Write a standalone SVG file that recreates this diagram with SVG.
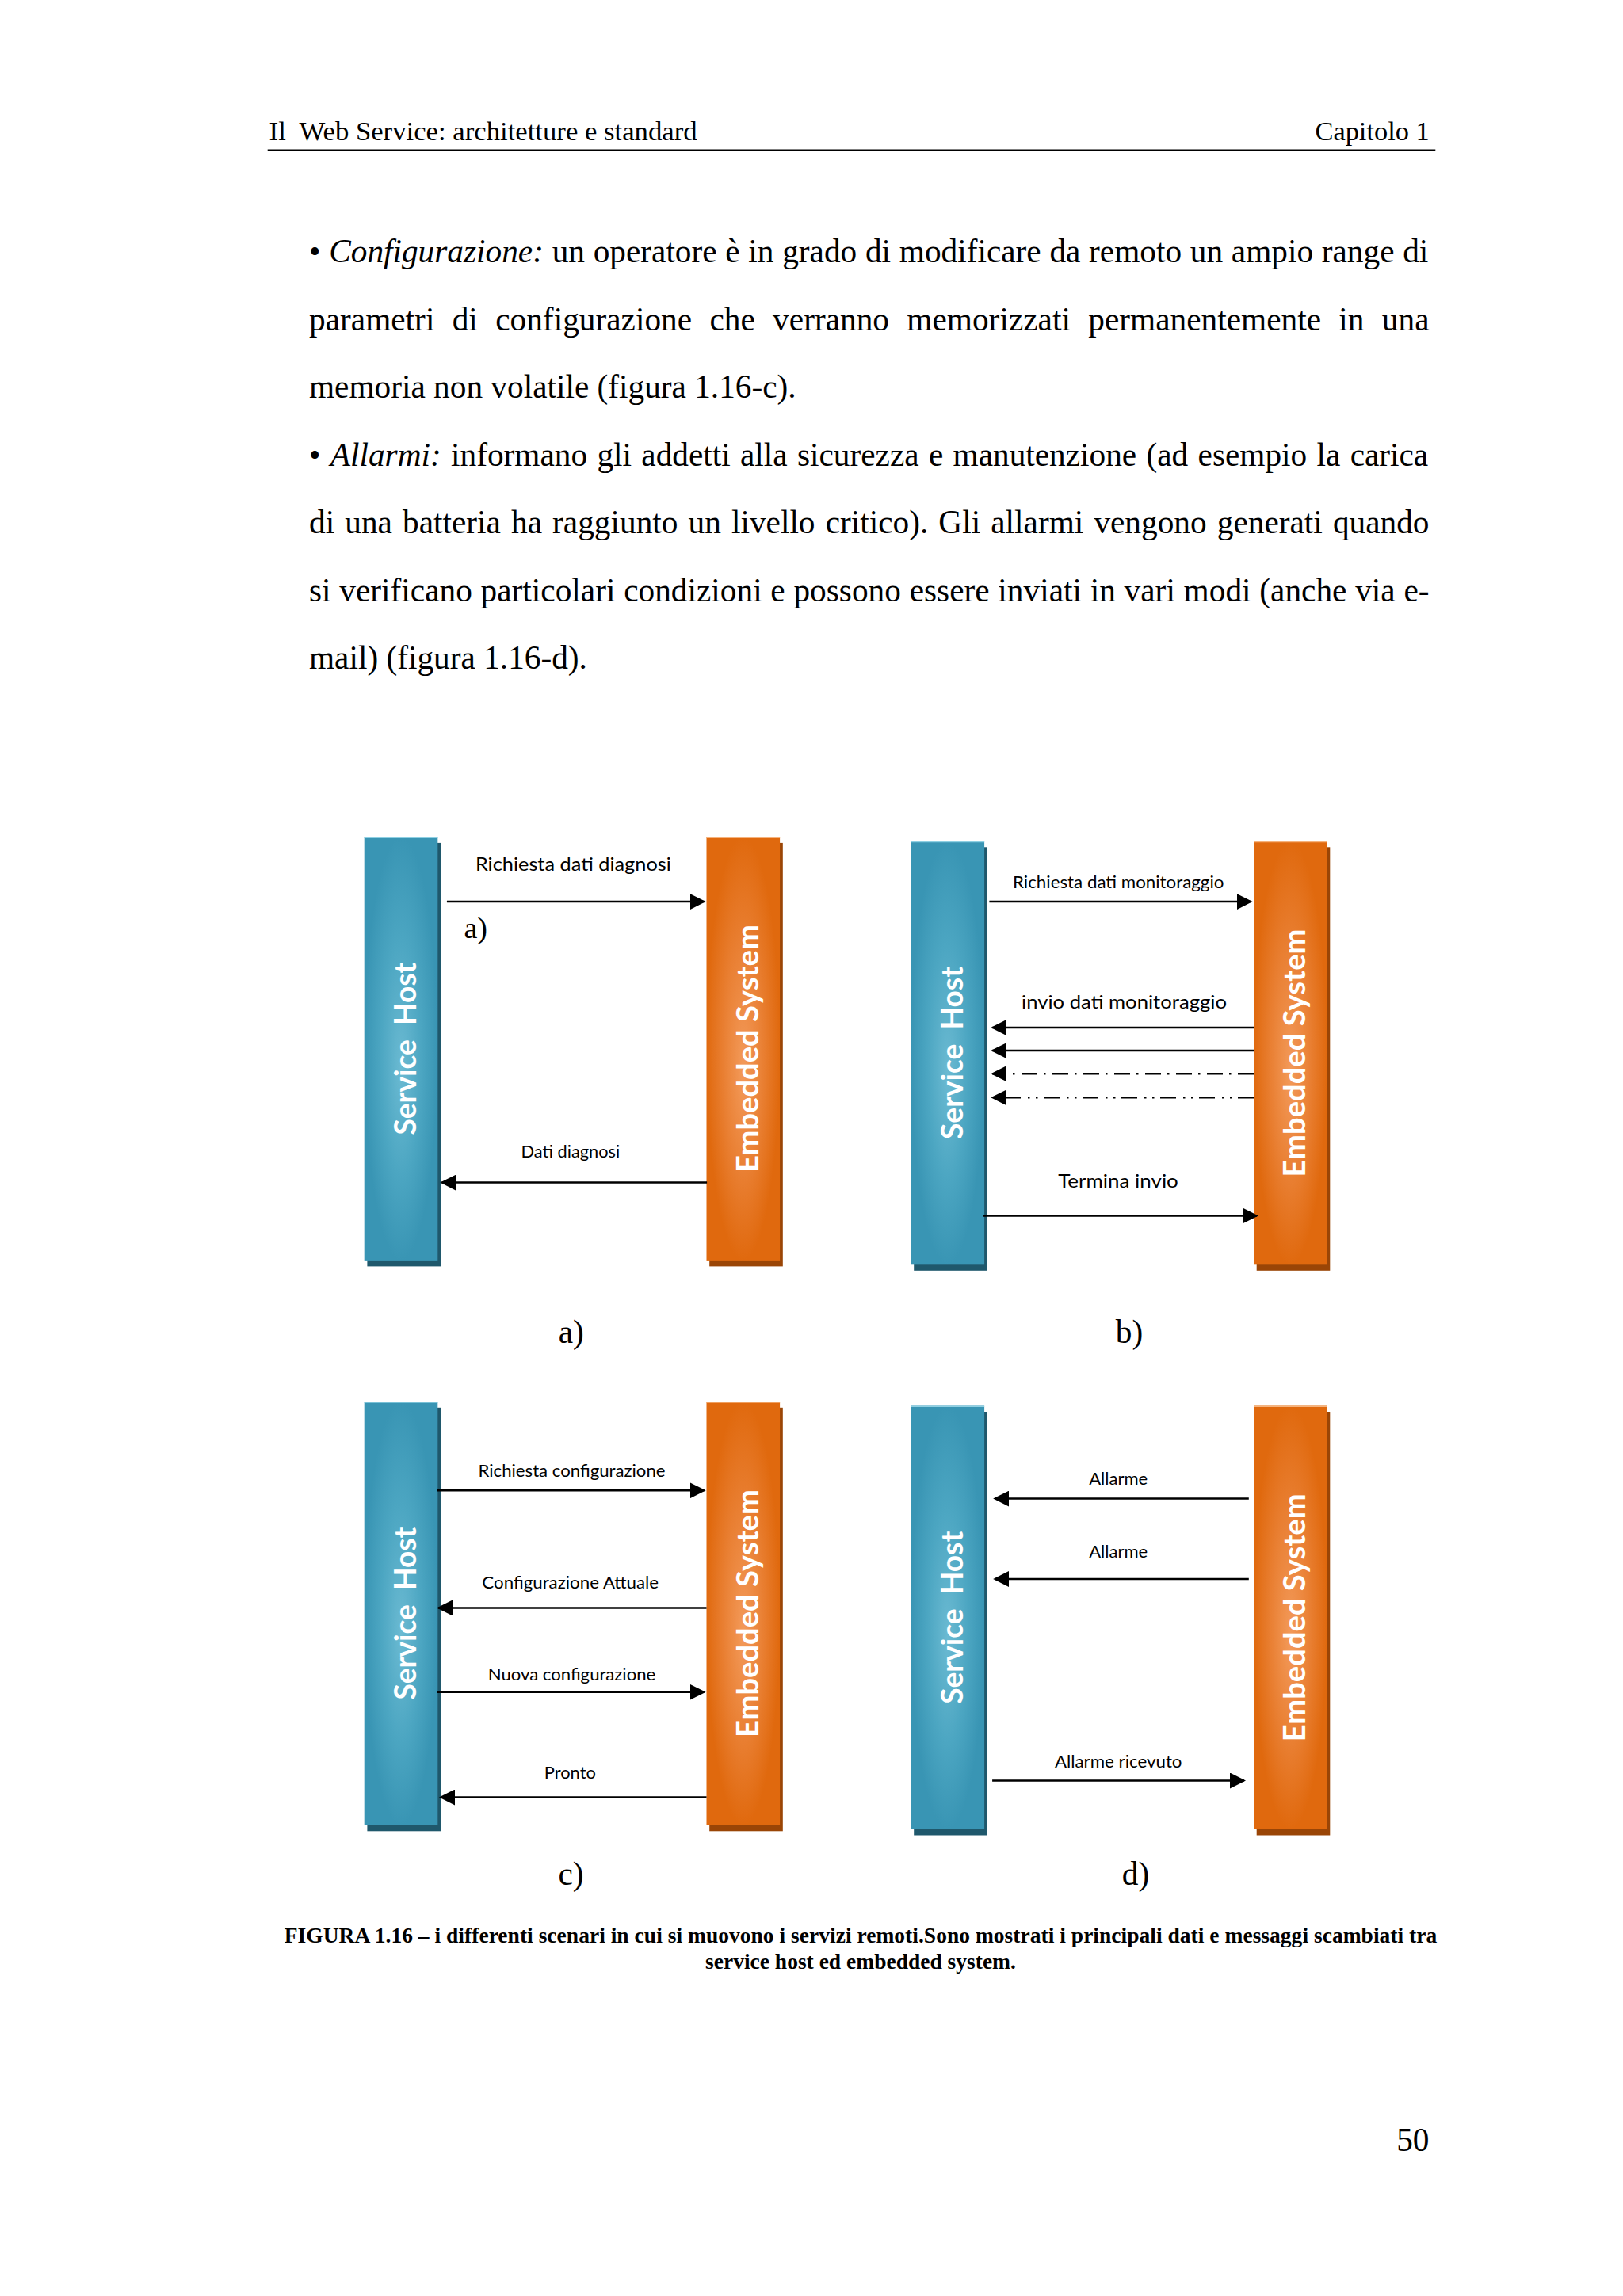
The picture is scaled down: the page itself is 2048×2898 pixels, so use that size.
<svg xmlns="http://www.w3.org/2000/svg" width="2048" height="2898" viewBox="0 0 2048 2898">
<style>
.serif{font-family:"Liberation Serif","Times New Roman",serif;fill:#000}
.body{font-size:41.3px}
.hdr{font-size:34.4px}
.cap{font-size:27.5px;font-weight:bold}
.lbl{font-family:Lato,"Open Sans","Liberation Sans",sans-serif;fill:#000;text-anchor:middle}
.bar-t{font-family:Lato,"Open Sans","Liberation Sans",sans-serif;font-weight:bold;font-size:38.5px;fill:#fff;text-anchor:middle}
.blue{fill:url(#gBlue)}
.orange{fill:url(#gOrange)}
.bshadow{fill:#1f586c}
.oshadow{fill:#9a4506}
.bhi{stroke:#8fd0e3;stroke-width:1.5}
.ohi{stroke:#f6b37d;stroke-width:1.5}
.msg{fill:none;stroke:#000;stroke-width:2.5;marker-end:url(#arr)}
</style>
<defs>
<radialGradient id="gBlue" cx="0.5" cy="0.5" r="0.5" fx="0.5" fy="0.55">
<stop offset="0" stop-color="#6bbad2"/>
<stop offset="0.55" stop-color="#4ca6c2"/>
<stop offset="1" stop-color="#3995b4"/>
</radialGradient>
<radialGradient id="gOrange" cx="0.5" cy="0.5" r="0.5" fx="0.5" fy="0.55">
<stop offset="0" stop-color="#f39a5a"/>
<stop offset="0.55" stop-color="#e97f32"/>
<stop offset="1" stop-color="#e0690e"/>
</radialGradient>
<marker id="arr" markerUnits="userSpaceOnUse" markerWidth="20" markerHeight="20" viewBox="0 0 20 20" refX="18" refY="10" orient="auto">
<path d="M0,0 L20,10 L0,20 z" fill="#000"/>
</marker>
</defs>
<rect x="0" y="0" width="2048" height="2898" fill="#fff"/>

<g id="page-text" class="serif">
<text class="hdr" x="339.6" y="177" textLength="540" lengthAdjust="spacingAndGlyphs" xml:space="preserve">Il  Web Service: architetture e standard</text>
<text class="hdr" x="1803.7" y="177" text-anchor="end">Capitolo 1</text>
<line x1="337.7" y1="189.5" x2="1811.3" y2="189.5" stroke="#000" stroke-width="2"/>
<text class="body" x="390" y="331" word-spacing="0.4">• <tspan font-style="italic">Configurazione:</tspan> un operatore è in grado di modificare da remoto un ampio range di</text>
<text class="body" x="390" y="416.5" word-spacing="12" textLength="1413.5" lengthAdjust="spacing">parametri di configurazione che verranno memorizzati permanentemente in una</text>
<text class="body" x="390" y="502">memoria non volatile (figura 1.16-c).</text>
<text class="body" x="390" y="587.5" word-spacing="2">• <tspan font-style="italic">Allarmi:</tspan> informano gli addetti alla sicurezza e manutenzione (ad esempio la carica</text>
<text class="body" x="390" y="673" word-spacing="2.8" textLength="1413.5" lengthAdjust="spacing">di una batteria ha raggiunto un livello critico). Gli allarmi vengono generati quando</text>
<text class="body" x="390" y="758.5" word-spacing="0.4" textLength="1413.5" lengthAdjust="spacing">si verificano particolari condizioni e possono essere inviati in vari modi (anche via e-</text>
<text class="body" x="390" y="844">mail) (figura 1.16-d).</text>
<text class="body" x="720.7" y="1695" text-anchor="middle">a)</text>
<text class="body" x="1425" y="1695" text-anchor="middle">b)</text>
<text class="body" x="720.5" y="2379" text-anchor="middle">c)</text>
<text class="body" x="1433" y="2379" text-anchor="middle">d)</text>
<text class="cap" x="1086" y="2452" text-anchor="middle" textLength="1454.5" lengthAdjust="spacing">FIGURA 1.16 – i differenti scenari in cui si muovono i servizi remoti.Sono mostrati i principali dati e messaggi scambiati tra</text>
<text class="cap" x="1086" y="2485" text-anchor="middle">service host ed embedded system.</text>
<text class="body" x="1803.5" y="2715" text-anchor="end">50</text>
</g>

<!-- Panel a -->
<g id="a-service-host">
<rect class="bshadow" x="463.4" y="1063.9" width="92.6" height="534.5"/>
<rect class="blue" x="459.7" y="1056.4" width="92.6" height="534.5"/>
<line class="bhi" x1="459.7" y1="1057.2" x2="552.3" y2="1057.2"/>
<text class="bar-t" transform="translate(525.1,1323.6) rotate(-90)" textLength="218" lengthAdjust="spacingAndGlyphs" xml:space="preserve">Service  Host</text>
</g>
<g id="a-embedded-system">
<rect class="oshadow" x="895.2" y="1063.9" width="92.6" height="534.5"/>
<rect class="orange" x="891.5" y="1056.4" width="92.6" height="534.5"/>
<line class="ohi" x1="891.5" y1="1057.2" x2="984.1" y2="1057.2"/>
<text class="bar-t" transform="translate(956.8,1323.6) rotate(-90)" textLength="313" lengthAdjust="spacingAndGlyphs">Embedded System</text>
</g>
<text class="serif" x="585.4" y="1183.6" font-size="38">a)</text>

<!-- Panel b -->
<g id="b-service-host">
<rect class="bshadow" x="1153.2" y="1069.3" width="92.6" height="534.5"/>
<rect class="blue" x="1149.5" y="1061.8" width="92.6" height="534.5"/>
<line class="bhi" x1="1149.5" y1="1062.6" x2="1242.1" y2="1062.6"/>
<text class="bar-t" transform="translate(1214.9,1329) rotate(-90)" textLength="218" lengthAdjust="spacingAndGlyphs" xml:space="preserve">Service  Host</text>
</g>
<g id="b-embedded-system">
<rect class="oshadow" x="1585.7" y="1069.3" width="92.6" height="534.5"/>
<rect class="orange" x="1582" y="1061.8" width="92.6" height="534.5"/>
<line class="ohi" x1="1582" y1="1062.6" x2="1674.6" y2="1062.6"/>
<text class="bar-t" transform="translate(1647.3,1329) rotate(-90)" textLength="313" lengthAdjust="spacingAndGlyphs">Embedded System</text>
</g>

<!-- Panel c -->
<g id="c-service-host">
<rect class="bshadow" x="463.4" y="1776.8" width="92.6" height="534.5"/>
<rect class="blue" x="459.7" y="1769.3" width="92.6" height="534.5"/>
<line class="bhi" x1="459.7" y1="1770.1" x2="552.3" y2="1770.1"/>
<text class="bar-t" transform="translate(525.1,2036.6) rotate(-90)" textLength="218" lengthAdjust="spacingAndGlyphs" xml:space="preserve">Service  Host</text>
</g>
<g id="c-embedded-system">
<rect class="oshadow" x="895.2" y="1776.8" width="92.6" height="534.5"/>
<rect class="orange" x="891.5" y="1769.3" width="92.6" height="534.5"/>
<line class="ohi" x1="891.5" y1="1770.1" x2="984.1" y2="1770.1"/>
<text class="bar-t" transform="translate(956.8,2036.6) rotate(-90)" textLength="313" lengthAdjust="spacingAndGlyphs">Embedded System</text>
</g>

<!-- Panel d -->
<g id="d-service-host">
<rect class="bshadow" x="1153.2" y="1782" width="92.6" height="534.5"/>
<rect class="blue" x="1149.5" y="1774.5" width="92.6" height="534.5"/>
<line class="bhi" x1="1149.5" y1="1775.3" x2="1242.1" y2="1775.3"/>
<text class="bar-t" transform="translate(1214.9,2041.8) rotate(-90)" textLength="218" lengthAdjust="spacingAndGlyphs" xml:space="preserve">Service  Host</text>
</g>
<g id="d-embedded-system">
<rect class="oshadow" x="1585.7" y="1782" width="92.6" height="534.5"/>
<rect class="orange" x="1582" y="1774.5" width="92.6" height="534.5"/>
<line class="ohi" x1="1582" y1="1775.3" x2="1674.6" y2="1775.3"/>
<text class="bar-t" transform="translate(1647.3,2041.8) rotate(-90)" textLength="313" lengthAdjust="spacingAndGlyphs">Embedded System</text>
</g>

<g id="connectors">
<path class="msg" d="M563.9 1138.1 H888.6"/>
<path class="msg" d="M892.1 1492.6 H557.4"/>
<path class="msg" d="M1248.4 1138.1 H1578.6"/>
<path class="msg" d="M1582 1297 H1252.2"/>
<path class="msg" d="M1582 1326.1 H1252.2"/>
<path class="msg" d="M1582 1355.2 H1252.2" stroke-dasharray="20 8.5 2.5 8"/>
<path class="msg" d="M1582 1385.3 H1252.2" stroke-dasharray="20 7.5 2.5 7.5 2.5 9"/>
<path class="msg" d="M1241 1534.4 H1586"/>
<path class="msg" d="M551 1881.3 H888.6"/>
<path class="msg" d="M891.5 2029.4 H553"/>
<path class="msg" d="M551 2135.8 H888.6"/>
<path class="msg" d="M891.5 2268.5 H556"/>
<path class="msg" d="M1575.8 1891.6 H1255.2"/>
<path class="msg" d="M1575.8 1993 H1255.2"/>
<path class="msg" d="M1252.1 2247.5 H1570"/>
</g>

<g id="connector-labels">
<text class="lbl" x="723.4" y="1098.9" font-size="23.9" textLength="247" lengthAdjust="spacingAndGlyphs">Richiesta dati diagnosi</text>
<text class="lbl" x="719.9" y="1461" font-size="20.2" textLength="124.7" lengthAdjust="spacingAndGlyphs">Dati diagnosi</text>
<text class="lbl" x="1411.2" y="1120.7" font-size="21.3" textLength="266.4" lengthAdjust="spacingAndGlyphs">Richiesta dati monitoraggio</text>
<text class="lbl" x="1418.5" y="1272.6" font-size="22.9" textLength="259" lengthAdjust="spacingAndGlyphs">invio dati monitoraggio</text>
<text class="lbl" x="1411" y="1498.7" font-size="23.9" textLength="151.7" lengthAdjust="spacingAndGlyphs">Termina invio</text>
<text class="lbl" x="721.5" y="1864" font-size="21.3" textLength="236" lengthAdjust="spacingAndGlyphs">Richiesta configurazione</text>
<text class="lbl" x="719.7" y="2005.3" font-size="21.3" textLength="222.7" lengthAdjust="spacingAndGlyphs">Configurazione Attuale</text>
<text class="lbl" x="721.5" y="2121.2" font-size="21.3" textLength="211.6" lengthAdjust="spacingAndGlyphs">Nuova configurazione</text>
<text class="lbl" x="719.3" y="2244.8" font-size="21.3" textLength="65" lengthAdjust="spacingAndGlyphs">Pronto</text>
<text class="lbl" x="1411.2" y="1874.4" font-size="20.2" textLength="74" lengthAdjust="spacingAndGlyphs">Allarme</text>
<text class="lbl" x="1411.2" y="1966.2" font-size="20.2" textLength="74" lengthAdjust="spacingAndGlyphs">Allarme</text>
<text class="lbl" x="1411.2" y="2231" font-size="20.2" textLength="160.6" lengthAdjust="spacingAndGlyphs">Allarme ricevuto</text>
</g>
</svg>
